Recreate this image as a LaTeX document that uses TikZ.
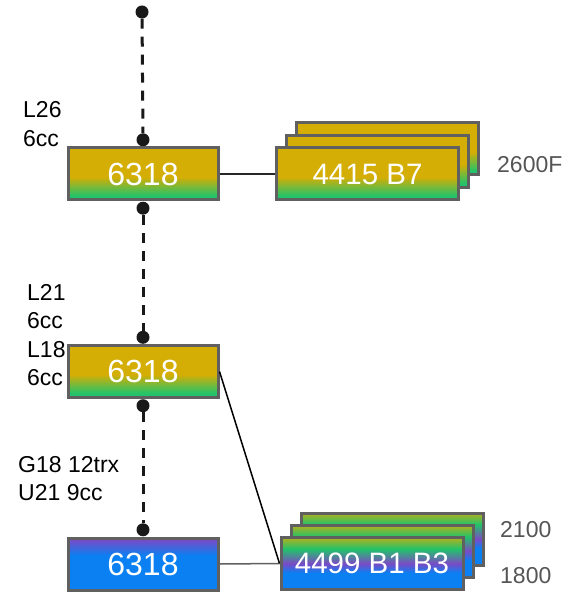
\documentclass[tikz,border=0pt]{standalone}
\usepackage{fontspec}
\setmainfont{Liberation Sans}
\usetikzlibrary{positioning}

\definecolor{boxgold}{HTML}{D4AE04}
\definecolor{boxolive}{HTML}{B4B01C}
\definecolor{boxgreen}{HTML}{22C36A}
\definecolor{boxpurple}{HTML}{7B4AC6}
\definecolor{boxblue}{HTML}{0A80F2}
\definecolor{boxline}{HTML}{606060}
\definecolor{sidetext}{HTML}{555555}

\pgfdeclareverticalshading{goldgreen}{100bp}{color(0bp)=(boxgreen); color(29bp)=(boxgreen); color(47bp)=(boxgold); color(100bp)=(boxgold)}
\pgfdeclareverticalshading{purpleblue}{100bp}{color(0bp)=(boxblue); color(58bp)=(boxblue); color(74bp)=(boxpurple); color(100bp)=(boxpurple)}
\pgfdeclareverticalshading{rainbow}{100bp}{color(0bp)=(boxblue); color(41bp)=(boxblue); color(50bp)=(boxpurple); color(64bp)=(boxgreen); color(75bp)=(boxolive); color(100bp)=(boxolive)}

\begin{document}
\begin{tikzpicture}[x=1pt, y=-1pt]
    \tikzstyle{cpubox}=[draw=boxline, line width=3pt, minimum width=150pt, minimum height=52pt, rectangle, text=white, font=\fontsize{32}{38}\selectfont]
    \tikzstyle{cardbox}=[draw=boxline, line width=3pt, minimum width=182pt, minimum height=52pt, rectangle, text=white, font=\fontsize{29.5}{35}\selectfont]
    \tikzstyle{dot}=[circle, fill=black!90, inner sep=0pt, minimum size=13pt]
    \tikzstyle{link}=[black!90, line width=3pt, dash pattern=on 10pt off 8pt]
    \tikzstyle{lbl}=[inner sep=0pt, align=left, font=\fontsize{23}{28.5}\selectfont]
    \tikzstyle{side}=[inner sep=0pt, anchor=west, text=sidetext, font=\fontsize{23}{28}\selectfont]

    \useasboundingbox (0,0) rectangle (567,593);

    % CPU column
    \node[cpubox, shading=goldgreen] (cpu1) at (143,174) {6318};
    \node[cpubox, shading=goldgreen] (cpu2) at (143,371.5) {6318};
    \node[cpubox, shading=purpleblue] (cpu3) at (143,564) {6318};

    \node[dot] (top_dot) at (142,12) {};
    \node[dot, above=0pt of cpu1] (cpu1_up) {};
    \node[dot, below=0pt of cpu1] (cpu1_down) {};
    \node[dot, above=0pt of cpu2] (cpu2_up) {};
    \node[dot, below=0pt of cpu2] (cpu2_down) {};
    \node[dot, above=0pt of cpu3] (cpu3_up) {};

    \draw[link] (top_dot) -- (cpu1_up);
    \draw[link] (cpu1_down) -- (cpu2_up);
    \draw[link] (cpu2_down) -- (cpu3_up);

    \node[lbl, anchor=west] (lbl1) at (23,124) {L26\\6cc};
    \node[lbl, anchor=west] (lbl2) at (27,335) {L21\\6cc\\L18\\6cc};
    \node[lbl, anchor=west] (lbl3) at (18,478.5) {G18 12trx\\U21 9cc};

    % Top card stack
    \node[cardbox, shading=goldgreen] (b7_back) at (387.5,149) {};
    \node[cardbox, shading=goldgreen] (b7_mid) at ([shift={(-10,12.5)}]b7_back.center) {};
    \node[cardbox, shading=goldgreen] (b7_front) at ([shift={(-10,12.5)}]b7_mid.center) {4415 B7};
    \node[side] (b7_clock) at (497,165) {2600F};

    \draw[black!85, line width=1.5pt] (cpu1.east) -- (b7_front.west);

    % Bottom card stack
    \node[cardbox, shading=rainbow] (b1_back) at (392,539) {};
    \node[cardbox, shading=rainbow] (b1_mid) at ([shift={(-10,12.25)}]b1_back.center) {};
    \node[cardbox, shading=rainbow] (b1_front) at ([shift={(-10,12.25)}]b1_mid.center) {4499 B1 B3};
    \node[side] (b1_high) at (500,530) {2100};
    \node[side] (b1_low) at (500,576) {1800};

    \draw[boxline, line width=1.5pt] (cpu3.east) -- (b1_front.west);
    \draw[black, line width=1.5pt] (cpu2.east) -- (b1_front.west);
\end{tikzpicture}
\end{document}
